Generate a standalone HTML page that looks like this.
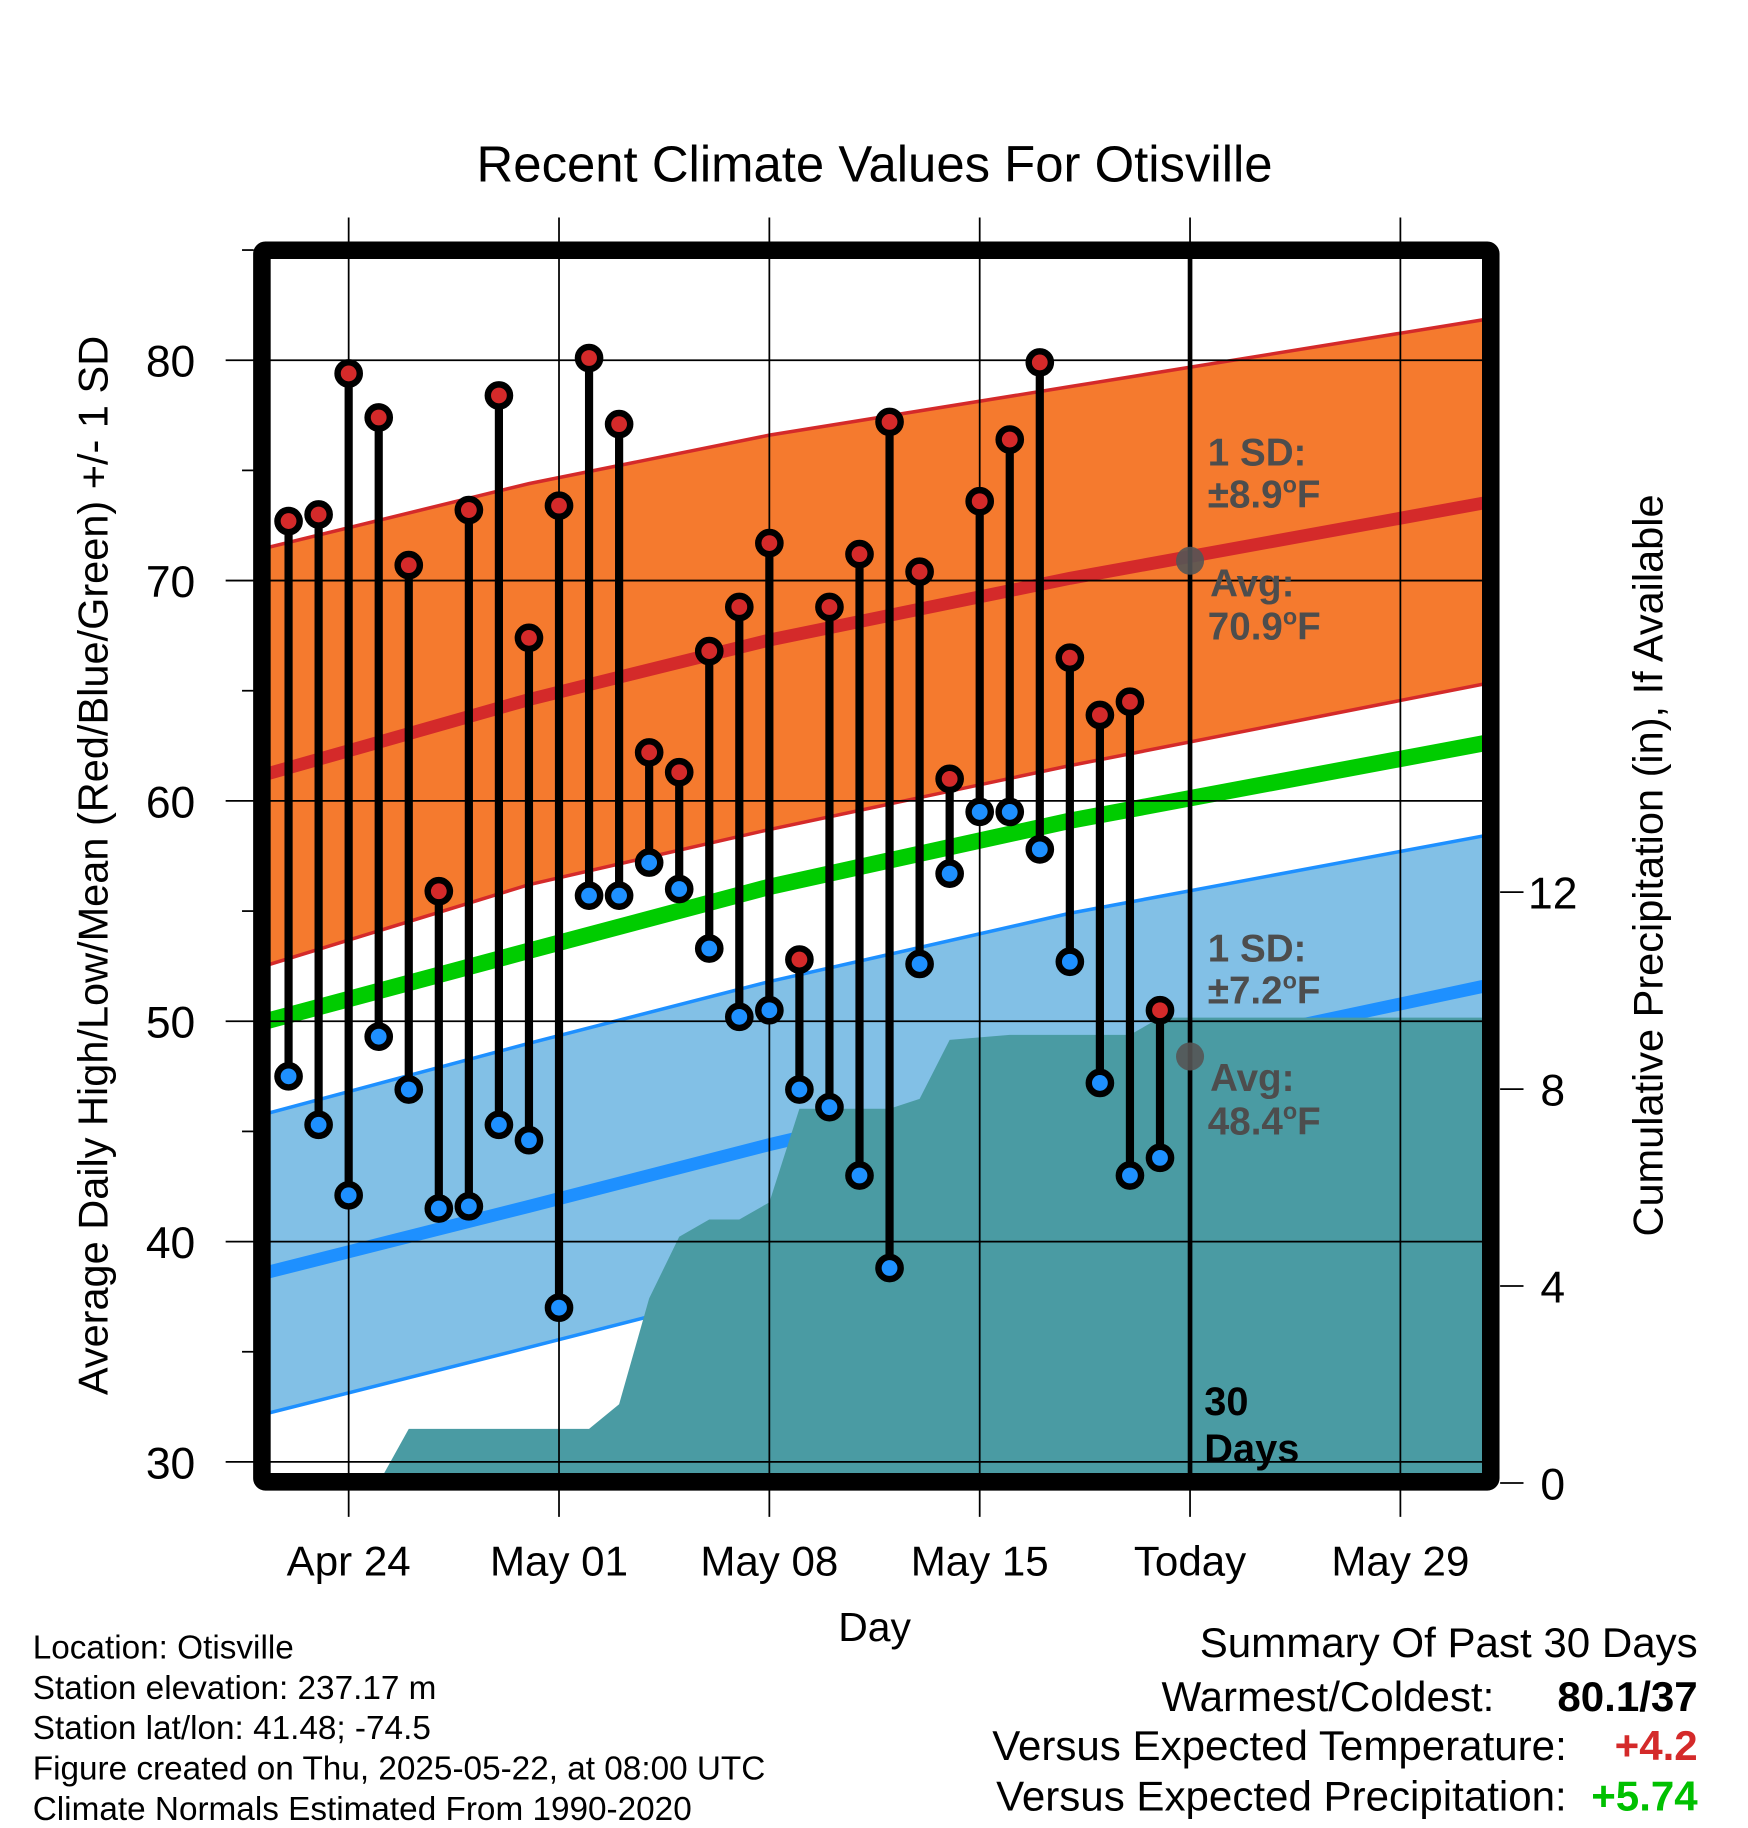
<!DOCTYPE html>
<html><head><meta charset="utf-8"><style>html,body{margin:0;padding:0;background:#fff}svg{display:block}text{font-family:"Liberation Sans",sans-serif}</style></head>
<body>
<svg id="chart" width="1748" height="1828" viewBox="0 0 1495 1563" preserveAspectRatio="none" xmlns="http://www.w3.org/2000/svg">
<g id="layer-bg"></g>
<g id="layer-marks"></g>
<g id="layer-fg"></g>
</svg>
<script>
// ---- data ----
const dayLabels = ["Apr 24","May 01","May 08","May 15","Today","May 29"];
const dayTickIdx = [2,9,16,23,30,37]; // index relative to Apr 22
const highs = [72.7,73.0,79.4,77.4,70.7,55.9,73.2,78.4,67.4,73.4,80.1,77.1,62.2,61.3,66.8,68.8,71.7,52.8,68.8,71.2,77.2,70.4,61.0,73.6,76.4,79.9,66.5,63.9,64.5,50.5];
const lows  = [47.5,45.3,42.1,49.3,46.9,41.5,41.6,45.3,44.6,37.0,55.7,55.7,57.2,56.0,53.3,50.2,50.5,46.9,46.1,43.0,38.8,52.6,56.7,59.5,59.5,57.8,52.7,47.2,43.0,43.8];
const precip = [0,0,0,0,1.1,1.1,1.1,1.1,1.1,1.1,1.1,1.6,3.75,5.0,5.35,5.35,5.7,7.6,7.6,7.6,7.6,7.8,9.0,9.05,9.1,9.1,9.1,9.1,9.1,9.45];
const normDays = [-1.3,8,16,26,40.5];
const hiUpper = [71.3,74.4,76.6,78.8,82.0];
const hiMean  = [61.0,64.6,67.3,70.1,73.7];
const hiLower = [52.3,56.2,58.7,61.6,65.5];
const meanAvg = [49.8,53.2,56.1,59.1,62.8];
const loUpper = [45.6,49.0,51.8,54.9,58.6];
const loMean  = [38.4,41.6,44.4,47.6,51.8];
const loLower = [32.0,35.2,38.0,41.2,44.8];
const yTicks = [30,40,50,60,70,80];
const pTicks = [0,4,8,12];

// ---- axes ----
const X0=246.8, DX=25.7;
const L=231,R=1268,T=221,B=1260;
const xs = d => X0 + d*DX;
const ys = v => 1250 - (v-30)*18.84;
const yp = p => 1268 - p*42.1;
const NS="http://www.w3.org/2000/svg";
function mk(tag,attrs,parent,txt){const e=document.createElementNS(NS,tag);for(const k in attrs)e.setAttribute(k,attrs[k]);if(txt!==undefined)e.textContent=txt;parent.appendChild(e);return e;}
const bg=document.getElementById('layer-bg'),mg=document.getElementById('layer-marks'),fg=document.getElementById('layer-fg');

const defs=mk('defs',{},bg);const cp=mk('clipPath',{id:'pc'},defs);mk('rect',{x:L,y:T,width:R-L,height:B-T},cp);

let t=mk('text',{x:748,y:155,'font-size':43.5,'text-anchor':'middle'},fg,'Recent Climate Values For Otisville');



const cg=mk('g',{'clip-path':'url(#pc)'},bg);
function band(up,lo,fill,name){
  let pts=[];
  for(let i=0;i<normDays.length;i++)pts.push(xs(normDays[i])+','+ys(up[i]));
  for(let i=normDays.length-1;i>=0;i--)pts.push(xs(normDays[i])+','+ys(lo[i]));
  const p=mk('polygon',{points:pts.join(' '),fill:fill},cg);
  
  
}
function line(arr,color,w,name){
  const p=mk('polyline',{points:normDays.map((d,i)=>xs(d)+','+ys(arr[i])).join(' '),fill:'none',stroke:color,'stroke-width':w},cg);
  
  
}
band(hiUpper,hiLower,'#f57a2e','high-sd-band');
band(loUpper,loLower,'#82c0e6','low-sd-band');
line(hiUpper,'#d42a2a',3,'high-upper-line');
line(hiLower,'#d42a2a',3,'high-lower-line');
line(hiMean,'#d42a2a',11,'high-mean-line');
line(loUpper,'#1e90ff',3,'low-upper-line');
line(loLower,'#1e90ff',3,'low-lower-line');
line(loMean,'#1e90ff',11,'low-mean-line');
line(meanAvg,'#00cc00',14,'mean-normal-line');

{
  let pts=[L+','+B, L+','+yp(precip[0])];
  precip.forEach((p,i)=>pts.push(xs(i)+','+yp(p)));
  pts.push(R+','+yp(precip[precip.length-1]));pts.push(R+','+B);
  const a=mk('polygon',{points:pts.join(' '),fill:'#4a9ba3'},cg);
  
  
}

yTicks.forEach(v=>{
  const g=mk('line',{x1:193,x2:R,y1:ys(v),y2:ys(v),stroke:'#000','stroke-width':1.5},bg);
  
  
  const lb=mk('text',{x:167,y:ys(v)+14,'font-size':38,'text-anchor':'end'},fg,String(v));
  
  
});
for(let v=35;v<=85;v+=10){
  const m=mk('line',{x1:207,x2:217,y1:ys(v),y2:ys(v),stroke:'#000','stroke-width':1.5},bg);
  
  
}
dayTickIdx.forEach((d,i)=>{
  const g=mk('line',{x1:xs(d),x2:xs(d),y1:186,y2:1297,stroke:'#000','stroke-width':1.5},bg);
  
  
  const lb=mk('text',{x:xs(d),y:1347,'font-size':36,'text-anchor':'middle'},fg,dayLabels[i]);
  
  
});
pTicks.forEach(p=>{
  const tk=mk('line',{x1:1283,x2:1303,y1:yp(p),y2:yp(p),stroke:'#000','stroke-width':1.5},fg);
  
  
  const lb=mk('text',{x:1328,y:yp(p)+14,'font-size':38,'text-anchor':'middle'},fg,String(p));
  
  
});

{const tl=mk('line',{x1:xs(30),x2:xs(30),y1:T,y2:B,stroke:'#000','stroke-width':4},mg);

}

highs.forEach((h,i)=>{
  const s=mk('line',{x1:xs(i),x2:xs(i),y1:ys(h),y2:ys(lows[i]),stroke:'#000','stroke-width':7},mg);
  
  
});
highs.forEach((h,i)=>{
  const c=mk('circle',{cx:xs(i),cy:ys(h),r:9.5,fill:'#d42a2a',stroke:'#000','stroke-width':5.5},mg);
  
  
  const c2=mk('circle',{cx:xs(i),cy:ys(lows[i]),r:9.5,fill:'#1e90ff',stroke:'#000','stroke-width':5.5},mg);
  
  
});

[[70.9,'high-avg-dot'],[48.4,'low-avg-dot']].forEach(a=>{
  const c=mk('circle',{cx:xs(30),cy:ys(a[0]),r:12,fill:'#555','fill-opacity':0.9},mg);
  
  
});

{const f=mk('rect',{x:224,y:214,width:1051,height:1053,fill:'none',stroke:'#000','stroke-width':15,rx:3},fg);

}
</script>
<script>
(function(){
const NS="http://www.w3.org/2000/svg";const fg=document.getElementById('layer-fg');
function tx(x,y,s,txt,opts,name){const e=document.createElementNS(NS,'text');e.setAttribute('x',x);e.setAttribute('y',y);e.setAttribute('font-size',s);for(const k in (opts||{}))e.setAttribute(k,opts[k]);e.innerHTML=txt;fg.appendChild(e);


return e;}
const g={fill:'#4d4d4d','font-weight':'bold'};
const deg='<tspan font-size="20" dy="-13">o</tspan><tspan dy="13">F</tspan>';
tx(1033,398,33,'1 SD:',g,'high-sd-label');
tx(1033,434,33,'±8.9'+deg,g,'high-sd-value');
tx(1035,510,33,'Avg:',g,'high-avg-label');
tx(1033,547,33,'70.9'+deg,g,'high-avg-value');
tx(1033,822,33,'1 SD:',g,'low-sd-label');
tx(1033,858,33,'±7.2'+deg,g,'low-sd-value');
tx(1035,933,33,'Avg:',g,'low-avg-label');
tx(1033,970,33,'48.4'+deg,g,'low-avg-value');
tx(1030,1210,34,'30',{'font-weight':'bold'},'days-count');
tx(1030,1250,34,'Days',{'font-weight':'bold'},'days-label');
tx(748,1403,35,'Day',{'text-anchor':'middle'},'x-axis-title');
tx(0,0,35.5,'Average Daily High/Low/Mean (Red/Blue/Green) +/- 1 SD',{'text-anchor':'middle',transform:'translate(92,740) rotate(-90)'},'y-axis-title');
tx(0,0,35.5,'Cumulative Precipitation (in), If Available',{'text-anchor':'middle',transform:'translate(1422,740) rotate(-90)'},'precip-axis-title');
const foot=['Location: Otisville','Station elevation: 237.17 m','Station lat/lon: 41.48; -74.5','Figure created on Thu, 2025-05-22, at 08:00 UTC','Climate Normals Estimated From 1990-2020'];
foot.forEach((f,i)=>tx(28,1418+i*34.5,28.5,f,{},'footer-line'));
tx(1452,1417,36,'Summary Of Past 30 Days',{'text-anchor':'end'},'summary-title');
tx(1278,1463,36,'Warmest/Coldest:',{'text-anchor':'end'},'warmest-coldest-label');
tx(1452,1463,36,'80.1/37',{'text-anchor':'end','font-weight':'bold'},'warmest-coldest-value');
tx(1340,1505,36,'Versus Expected Temperature:',{'text-anchor':'end'},'temp-anomaly-label');
tx(1452,1505,36,'+4.2',{'text-anchor':'end','font-weight':'bold',fill:'#d42a2a'},'temp-anomaly-value');
tx(1340,1548,36,'Versus Expected Precipitation:',{'text-anchor':'end'},'precip-anomaly-label');
tx(1452,1548,36,'+5.74',{'text-anchor':'end','font-weight':'bold',fill:'#00c000'},'precip-anomaly-value');
})();
</script>
</body></html>
